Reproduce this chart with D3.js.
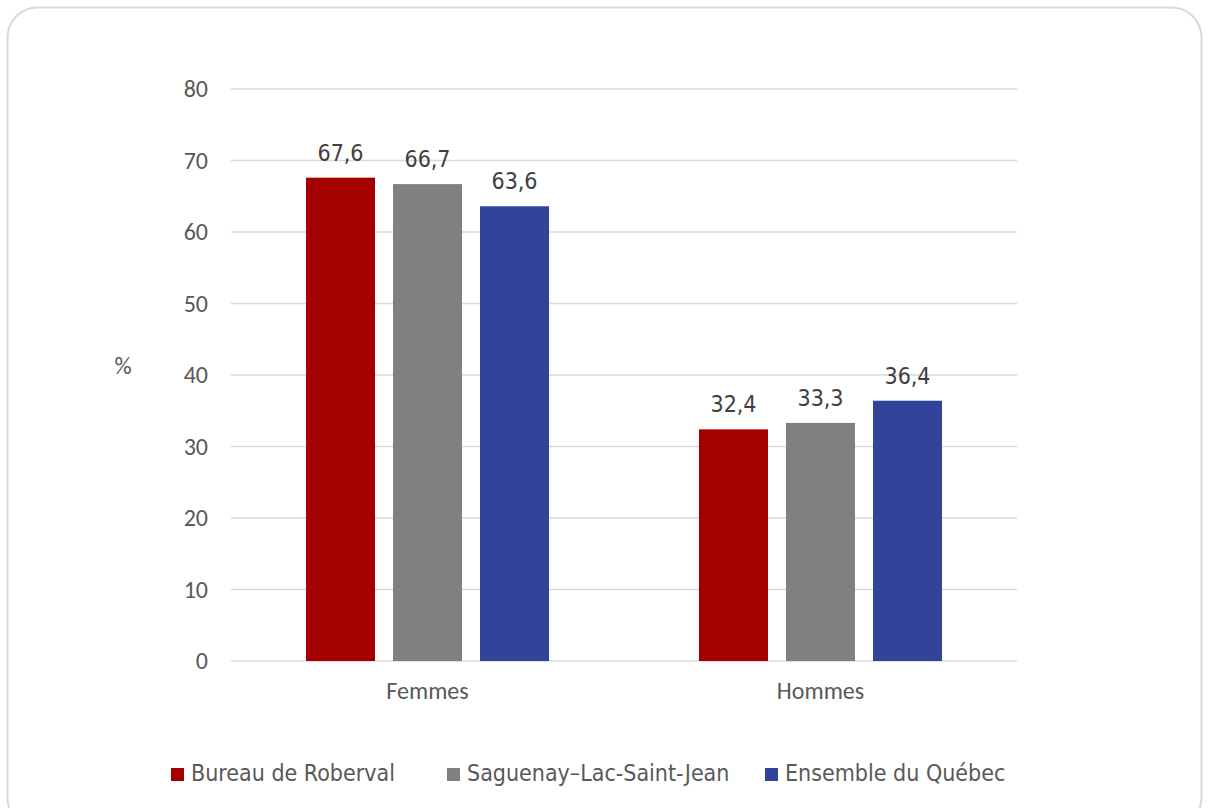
<!DOCTYPE html>
<html><head><meta charset="utf-8">
<script src="https://cdn.jsdelivr.net/npm/d3@7"></script>
<style>body{margin:0;background:#fff}svg{display:block}</style>
</head><body>
<svg id="c" width="1209" height="808"></svg>
<script>
const categories = ["Femmes", "Hommes"];
const seriesNames = ["Bureau de Roberval", "Saguenay\u2013Lac-Saint-Jean", "Ensemble du Québec"];
const seriesColors = ["#a50000", "#808080", "#324499"];
const roberval = [67.6, 32.4];
const saguenay = [66.7, 33.3];
const quebec = [63.6, 36.4];
const yTicks = [0, 10, 20, 30, 40, 50, 60, 70, 80];

const seriesValues = [roberval, saguenay, quebec];
const svg = d3.select("#c");
const tickFont = "Carlito, Calibri, 'Open Sans', sans-serif";
const labFont = "'DejaVu Sans Condensed', Tahoma, 'DejaVu Sans', sans-serif";

svg.append("rect").attr("x", 7.5).attr("y", 7.5).attr("width", 1194).attr("height", 820)
  .attr("rx", 30).attr("fill", "#fff").attr("stroke", "#d9d9d9").attr("stroke-width", 2);

const x0 = 231, x1 = 1017;
const y = d3.scaleLinear().domain([0, 80]).range([661, 89]);
const xb = d3.scaleBand().domain(categories).range([x0, x1]);
const inner = d3.scaleBand().domain(d3.range(3)).range([0, 243]).paddingInner(18/87);

svg.append("g").selectAll("line").data(yTicks).join("line")
  .attr("x1", x0).attr("x2", x1).attr("y1", d => y(d)).attr("y2", d => y(d))
  .attr("stroke", "#d9d9d9").attr("stroke-width", 1.3);

const yAxis = d3.axisLeft(y).tickValues(yTicks).tickSize(0).tickPadding(0).tickFormat(d3.format("d"));
const ya = svg.append("g").attr("transform", `translate(${x0-23},0)`).call(yAxis);
ya.select(".domain").remove();
ya.selectAll("text").attr("font-family", tickFont).attr("font-size", 24).attr("fill", "#595959").attr("dy", "0.33em");

const xAxis = d3.axisBottom(xb).tickSize(0).tickPadding(0);
const xa = svg.append("g").attr("transform", `translate(0,${y(0)})`).call(xAxis);
xa.select(".domain").remove();
xa.selectAll("text").attr("font-family", tickFont).attr("font-size", 24).attr("fill", "#595959")
  .attr("y", 38).attr("dy", "0");

categories.forEach((c, ci) => {
  const gx = xb(c) + xb.bandwidth()/2 - 243/2;
  seriesValues.forEach((vals, si) => {
    const bx = gx + inner(si);
    svg.append("rect").attr("x", bx).attr("y", y(vals[ci])).attr("width", inner.bandwidth())
      .attr("height", y(0) - y(vals[ci])).attr("fill", seriesColors[si]);
    svg.append("text").attr("x", bx + inner.bandwidth()/2).attr("y", y(vals[ci]) - 17)
      .attr("text-anchor", "middle").attr("font-family", labFont).attr("font-size", 23)
      .attr("fill", "#404040").text(d3.format(".1f")(vals[ci]).replace(".", ","));
  });
});

svg.append("text").attr("x", 123).attr("y", 366).attr("text-anchor", "middle")
  .attr("dy", "0.33em").attr("font-family", tickFont).attr("font-size", 24).attr("fill", "#595959").text("%");

const legX = [171, 447, 765];
seriesNames.forEach((n, i) => {
  svg.append("rect").attr("x", legX[i]).attr("y", 768).attr("width", 13).attr("height", 13).attr("fill", seriesColors[i]);
  svg.append("text").attr("x", legX[i] + 20).attr("y", 781)
    .attr("font-family", labFont).attr("font-size", 23).attr("fill", "#595959").text(n);
});
</script>
</body></html>
